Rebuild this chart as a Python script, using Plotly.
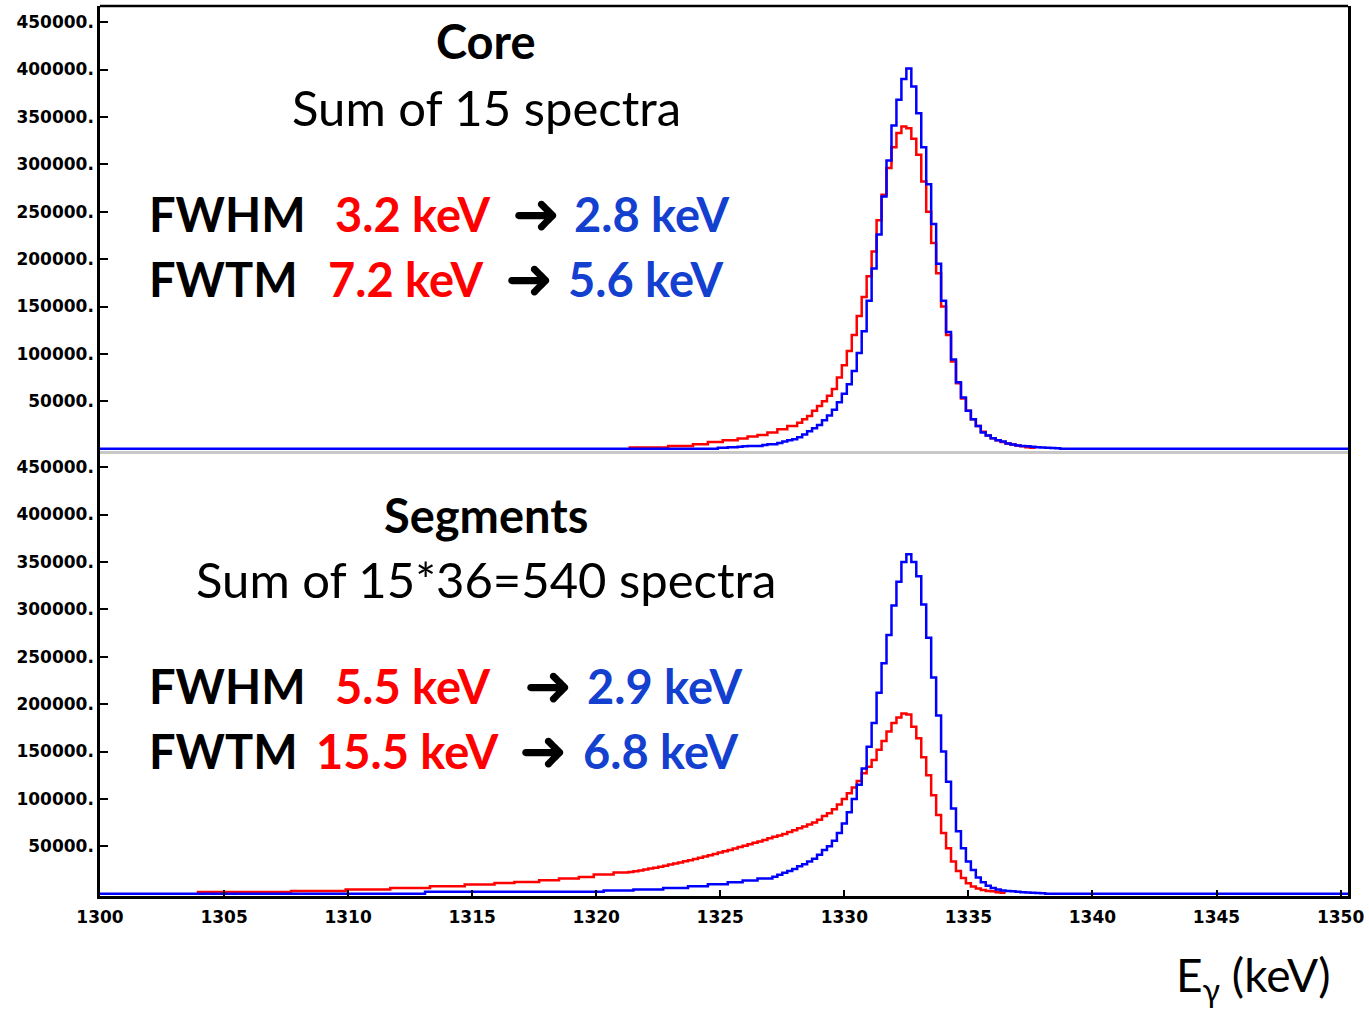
import plotly.graph_objects as go

# ---------------- data ----------------
BIN = 0.2  # keV per histogram bin
X_RANGE = [1300, 1350.3]

# Core, sum of 15 spectra  (centre of first bin, counts per bin)
core_before_start = 1321.4
core_before = [
    1300, 1300, 1300, 1300, 1300, 1300, 1300, 1300,
    3000, 3000, 3000, 3000, 3000,
    4700, 4700, 4700, 7000, 7000, 7000, 9000, 9000, 9000,
    10700, 10700, 12800, 12800, 14500, 14500, 17000, 17000,
    20500, 20500, 24000, 24000, 27500, 31000, 34500, 40000,
    45000, 50000, 56000, 63000, 75000, 88000, 103000, 120000,
    140000, 160000, 182000, 208000, 241000, 268000, 296000, 318000,
    333000, 340000, 338000, 327000, 310000, 282000, 250000, 217000,
    185000, 150000, 120000, 92000, 69000, 53000, 40000, 31000,
    24000, 18000, 14000, 11000, 9000, 7000, 5500, 4500,
    3500, 2500, 1500, 1000,
]
core_after_start = 1325.0
core_after = [
    1000, 1000, 1500, 1500, 2000,
    2500, 3000, 3000, 3000, 4000, 4700, 4700, 6000, 7500, 9000,
    10000, 12000, 15000, 18500, 21500, 25000, 30000, 35000, 41000, 49000,
    58000, 68000, 82000, 101000, 124000, 156000, 190000, 226000, 266000, 304000,
    341000, 368000, 390000, 401000, 382000, 354000, 318000, 279000, 237000, 195000,
    156000, 123000, 94000, 70000, 54000, 40000, 31000, 24000, 17000, 14000,
    11000, 9000, 7500, 5500, 4500, 3500, 3000, 2500, 2000, 1500,
    1200, 1000, 800, 500,
]

# Segments, sum of 540 spectra
seg_before_start = 1304.0
seg_before = [
    1900, 1900, 1900, 1900, 1900, 1900, 1900, 1900, 1900, 1900,
    1900, 1900, 1900, 1900, 1900, 1900, 1900, 1900, 1900,
    3000, 3000, 3000, 3000, 3000, 3000, 3000, 3000, 3000, 3000, 3000,
    4400, 4400, 4400, 4400, 4400, 4400, 4400, 4400, 4400,
    6100, 6100, 6100, 6100, 6100, 6100, 6100, 6100,
    7900, 7900, 7900, 7900, 7900, 7900, 7900,
    9700, 9700, 9700, 9700, 9700, 9700,
    11400, 11400, 11400, 11400,
    12400, 12400, 12400, 12400, 12400,
    14200, 14200, 14200, 14200,
    16000, 16000, 16000, 16000,
    17700, 17700, 17700,
    20200, 20200, 20200, 20200,
    22300, 22300, 22300,
    23000, 23800, 24600, 25500, 26500, 27500, 28500, 29600, 30700, 31800,
    33000, 34200, 35400, 36700, 38000, 39300, 40600, 42000, 43400, 44800,
    46200, 47700, 49200, 50700, 52200, 53700, 55200, 56800, 58400, 60000,
    61500, 63000, 65000, 67000, 69000, 71000, 73000, 75000, 78000, 82000,
    85000, 89000, 94000, 100000, 106000, 112000, 119000, 127000, 134000, 141000,
    152000, 161000, 171000, 180000, 186000, 190000, 189000, 176000, 164000, 144000,
    125000, 104000, 83000, 64000, 48000, 34000, 24000, 16500, 11000, 7700,
    5500, 4000, 3000, 2500, 1500, 1000,
]
seg_after_start = 1313.2
seg_after = [
    2000, 2000, 2000, 2000, 2000, 2000, 2000, 2000, 2000, 2000,
    2000, 2000, 2000, 2000, 2000, 2000, 2000, 2000, 2000, 2000,
    2000, 2000, 2000, 2000, 2000, 2000, 2000, 2000, 2000, 2000,
    2000, 2000, 2000, 2000, 2000, 2000,
    3500, 3500, 3500, 3500, 3500, 3500,
    4500, 4500, 4500, 4500, 4500, 4500,
    6000, 6000, 6000, 6000, 6000,
    8000, 8000, 8000, 8000,
    10000, 10000, 10000, 10000,
    12000, 12000, 12000,
    14000, 14000, 14000,
    16000, 16000, 16000,
    18000, 20000, 22000, 24000, 26000, 29000, 31000, 34000, 37000, 41000,
    46000, 50000, 56000, 64000, 74000, 86000, 100000, 115000, 132000, 155000,
    180000, 212000, 243000, 273000, 304000, 329000, 350000, 358000, 350000, 335000,
    305000, 270000, 228000, 188000, 150000, 118000, 90000, 66000, 48000, 34000,
    25000, 17000, 12000, 8500, 6000, 4500, 3500, 3000, 2500, 2000,
    1500, 1200, 1000, 800, 500,
]

y_tickvals = [50000, 100000, 150000, 200000, 250000, 300000, 350000, 400000, 450000]
y_ticktext = [f"{v}." for v in y_tickvals]
x_tickvals = [1300, 1305, 1310, 1315, 1320, 1325, 1330, 1335, 1340, 1345, 1350]

RED = "#FF0000"
BLUE = "#0000FF"
RED_TXT = "#FF0000"
BLUE_TXT = "#1440D0"


def steps(start, counts, pad=False):
    left = [round(start - BIN / 2 + i * BIN, 3) for i in range(len(counts))]
    end = round(left[-1] + BIN, 3)
    if pad:
        xs = [X_RANGE[0]] + left + [end, X_RANGE[1]]
        ys = [0] + list(counts) + [0, 0]
    else:
        xs = left + [end]
        ys = list(counts) + [counts[-1]]
    return xs, ys


fig = go.Figure()

panels = [
    ("x", "y", core_before_start, core_before, core_after_start, core_after),
    ("x2", "y2", seg_before_start, seg_before, seg_after_start, seg_after),
]
for xa, ya, sb, before, sa, after in panels:
    xr, yr = steps(sb, before)
    fig.add_trace(go.Scatter(x=xr, y=yr, mode="lines", line=dict(color=RED, width=2.5, shape="hv"),
                             xaxis=xa, yaxis=ya, hoverinfo="skip"))
    xb, yb = steps(sa, after, pad=True)
    fig.add_trace(go.Scatter(x=xb, y=yb, mode="lines", line=dict(color=BLUE, width=2.5, shape="hv"),
                             xaxis=xa, yaxis=ya, hoverinfo="skip"))

TICKFONT = dict(family="DejaVu Sans", size=17, color="black", weight="bold")
Y_RANGE = [-2400, 467000]

yaxis_common = dict(
    range=Y_RANGE, tickvals=y_tickvals, ticktext=y_ticktext, ticks="inside", ticklen=8,
    tickwidth=2, tickcolor="black", showline=True, linecolor="black", linewidth=2.5,
    mirror=True, showgrid=False, zeroline=False, tickfont=TICKFONT,
)

fig.update_layout(
    width=1369, height=1012,
    margin=dict(l=100, r=21, t=6, b=116),
    paper_bgcolor="white", plot_bgcolor="white",
    showlegend=False,
    # top panel (Core)
    xaxis=dict(domain=[0, 1], range=X_RANGE, anchor="y", showticklabels=False, ticks="",
               showline=True, linecolor="#C8C8C8", linewidth=2.5, showgrid=False, zeroline=False),
    yaxis=dict(domain=[0.5, 1], anchor="x", **yaxis_common),
    # bottom panel (Segments)
    xaxis2=dict(domain=[0, 1], range=X_RANGE, anchor="y2", tickvals=x_tickvals, ticks="inside",
                ticklen=6, tickwidth=2, tickcolor="black", showline=True, linecolor="black",
                linewidth=2.5, showgrid=False, zeroline=False, tickfont=TICKFONT,
                ticklabelstandoff=4),
    yaxis2=dict(domain=[0, 0.5], anchor="x2", **yaxis_common),
    shapes=[
        dict(type="line", xref="paper", yref="paper", x0=0, x1=1, y0=1, y1=1,
             line=dict(color="black", width=2.5)),
    ],
)

# ---------------- text ----------------
PL, PT, PW, PH = 100, 6, 1248, 890


def px(xp):
    return (xp - PL) / PW


def py(yp):
    return (PT + PH - yp) / PH


def txt(text, x, y, size, color="black", xanchor="left", family="Lato"):
    fig.add_annotation(text=text, x=px(x), y=py(y), xref="paper", yref="paper",
                       xanchor=xanchor, yanchor="middle", showarrow=False,
                       font=dict(family=family, size=size, color=color))


BOLD = 47
REG = 49
ARR = 58
ARROW = "\u279C"

txt("<b>Core</b>", 486, 41, BOLD, xanchor="center")
txt("Sum of 15 spectra", 486, 107, REG, xanchor="center")
txt("<b>FWHM</b>", 147, 214, BOLD)
txt("<b>3.2 keV</b>", 333, 214, BOLD, RED_TXT)
txt(ARROW, 510, 214, ARR, family="DejaVu Sans")
txt("<b>2.8 keV</b>", 572, 214, BOLD, BLUE_TXT)
txt("<b>FWTM</b>", 147, 279, BOLD)
txt("<b>7.2 keV</b>", 326, 279, BOLD, RED_TXT)
txt(ARROW, 503, 279, ARR, family="DejaVu Sans")
txt("<b>5.6 keV</b>", 566, 279, BOLD, BLUE_TXT)

txt("<b>Segments</b>", 486, 515, BOLD, xanchor="center")
txt("Sum of 15*36=540 spectra", 486, 579, REG, xanchor="center")
txt("<b>FWHM</b>", 147, 686, BOLD)
txt("<b>5.5 keV</b>", 333, 686, BOLD, RED_TXT)
txt(ARROW, 522, 686, ARR, family="DejaVu Sans")
txt("<b>2.9 keV</b>", 585, 686, BOLD, BLUE_TXT)
txt("<b>FWTM</b>", 147, 751, BOLD)
txt("<b>15.5 keV</b>", 314, 751, BOLD, RED_TXT)
txt(ARROW, 517, 751, ARR, family="DejaVu Sans")
txt("<b>6.8 keV</b>", 581, 751, BOLD, BLUE_TXT)

txt("E<sub>\u03b3</sub> (keV)", 1332, 978, 46, xanchor="right")

fig.write_html("out.html", config={"displayModeBar": False},
               post_script="document.body.style.margin='0';")
